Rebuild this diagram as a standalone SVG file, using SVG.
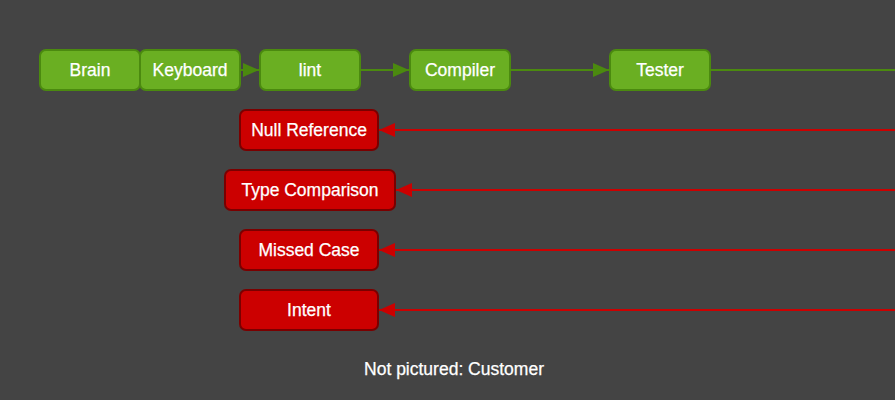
<svg xmlns="http://www.w3.org/2000/svg" width="895" height="400" viewBox="0 0 895 400">
<defs>
<style>
.g rect{fill:#6aaf22;stroke:#4b8a0f;stroke-width:2}
.r rect{fill:#cc0000;stroke:#7a0000;stroke-width:2}
text{font-family:"Liberation Sans",Arial,sans-serif;font-size:17.5px;fill:#ffffff;text-anchor:middle;stroke:#ffffff;stroke-width:0.25}
.gl{stroke:#4b8a0f;stroke-width:2;fill:none}
.rl{stroke:#cc0000;stroke-width:2;fill:none}
</style>
<marker id="ag" markerWidth="16" markerHeight="14" viewBox="0 0 16 14" refX="16" refY="7" orient="auto" markerUnits="userSpaceOnUse"><path d="M0,0 L16,7 L0,14 Z" fill="#4b8a0f"/></marker>
<marker id="ar" markerWidth="16" markerHeight="14" viewBox="0 0 16 14" refX="16" refY="7" orient="auto" markerUnits="userSpaceOnUse"><path d="M0,0 L16,7 L0,14 Z" fill="#cc0000"/></marker>
</defs>
<rect width="895" height="400" fill="#444444"/>
<g id="connectors">
<line class="gl" x1="240" y1="70" x2="259" y2="70" marker-end="url(#ag)"/>
<line class="gl" x1="360" y1="70" x2="409" y2="70" marker-end="url(#ag)"/>
<line class="gl" x1="510" y1="70" x2="609" y2="70" marker-end="url(#ag)"/>
<line class="gl" x1="710" y1="70" x2="895" y2="70"/>
<line class="rl" x1="895" y1="130" x2="379" y2="130" marker-end="url(#ar)"/>
<line class="rl" x1="895" y1="190" x2="396" y2="190" marker-end="url(#ar)"/>
<line class="rl" x1="895" y1="250" x2="379" y2="250" marker-end="url(#ar)"/>
<line class="rl" x1="895" y1="310" x2="379" y2="310" marker-end="url(#ar)"/>
</g>
<g id="brain" class="g"><rect x="40" y="50" width="100" height="40" rx="6"/><text x="90" y="75.5">Brain</text></g>
<g id="keyboard" class="g"><rect x="140" y="50" width="100" height="40" rx="6"/><text x="190" y="75.5">Keyboard</text></g>
<g id="lint" class="g"><rect x="260" y="50" width="100" height="40" rx="6"/><text x="310" y="75.5">lint</text></g>
<g id="compiler" class="g"><rect x="410" y="50" width="100" height="40" rx="6"/><text x="460" y="75.5">Compiler</text></g>
<g id="tester" class="g"><rect x="610" y="50" width="100" height="40" rx="6"/><text x="660" y="75.5">Tester</text></g>
<g id="null-reference" class="r"><rect x="240" y="110" width="138" height="40" rx="6"/><text x="309" y="135.5">Null Reference</text></g>
<g id="type-comparison" class="r"><rect x="225" y="170" width="170" height="40" rx="6"/><text x="310" y="195.5">Type Comparison</text></g>
<g id="missed-case" class="r"><rect x="240" y="230" width="138" height="40" rx="6"/><text x="309" y="255.5">Missed Case</text></g>
<g id="intent" class="r"><rect x="240" y="290" width="138" height="40" rx="6"/><text x="309" y="315.5">Intent</text></g>
<text x="454" y="375">Not pictured: Customer</text>
</svg>
